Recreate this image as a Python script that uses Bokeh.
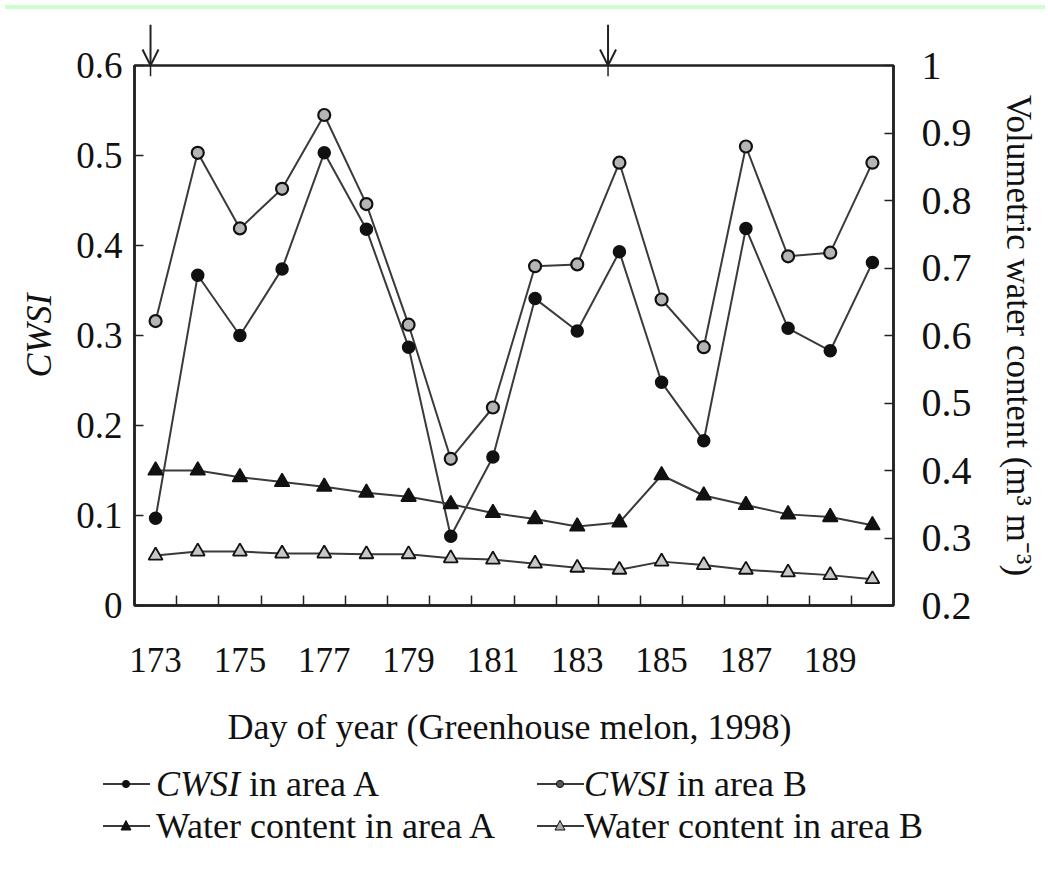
from bokeh.plotting import figure
from bokeh.models import Range1d, LinearAxis, FixedTicker, CustomJSTickFormatter, Arrow, OpenHead, Div
from bokeh.layouts import column
from bokeh.embed import file_html
from bokeh.resources import INLINE

# ---------------- data ----------------
days = list(range(173, 191))
cwsi_a = [0.097, 0.367, 0.300, 0.374, 0.503, 0.418, 0.287, 0.077, 0.165,
          0.341, 0.305, 0.393, 0.248, 0.183, 0.419, 0.308, 0.283, 0.381]
cwsi_b = [0.316, 0.503, 0.419, 0.463, 0.545, 0.446, 0.312, 0.163, 0.220,
          0.377, 0.379, 0.492, 0.340, 0.287, 0.510, 0.388, 0.392, 0.492]
wc_a = [0.400, 0.400, 0.390, 0.383, 0.376, 0.367, 0.361, 0.350, 0.337,
        0.328, 0.317, 0.323, 0.393, 0.363, 0.349, 0.335, 0.331, 0.319]
wc_b = [0.274, 0.280, 0.280, 0.277, 0.277, 0.276, 0.276, 0.270, 0.268,
        0.262, 0.256, 0.253, 0.265, 0.260, 0.253, 0.249, 0.245, 0.239]
irrigation_days = [172.88, 183.73]

x_label_days = [173, 175, 177, 179, 181, 183, 185, 187, 189]
x_tick_marks = [d + 0.5 for d in range(173, 190)]
cwsi_ticks = [0, 0.1, 0.2, 0.3, 0.4, 0.5, 0.6]
wc_ticks = [0.2, 0.3, 0.4, 0.5, 0.6, 0.7, 0.8, 0.9, 1.0]

legend_lead = ["CWSI", "CWSI", "", ""]
legend_rest = [" in area A", " in area B", "Water content in area A", "Water content in area B"]
legend_marker = ["circle", "circle", "triangle", "triangle"]
legend_fill = ["#111111", "#555555", "#111111", "#aaaaaa"]

FONT = "Liberation Serif"
LINE_C = "#3a3a3a"
W = 1040
ML, MR = 134, 147
TOPPAD = 22

fmt = CustomJSTickFormatter(code="return String(Math.round(tick*10)/10);")

# ---------------- main plot ----------------
p = figure(width=W, height=TOPPAD + 540 + 157,
           x_range=Range1d(172.5, 190.5), y_range=Range1d(0, 0.6),
           output_backend="svg", toolbar_location=None,
           x_axis_location=None, y_axis_location=None,
           min_border_left=ML, min_border_right=MR,
           min_border_top=TOPPAD, min_border_bottom=157)
p.margin = (-TOPPAD, 0, 0, 0)
p.extra_y_ranges = {"wc": Range1d(0.2, 1.0)}
p.xgrid.visible = False
p.ygrid.visible = False
p.outline_line_color = "#222222"
p.outline_line_width = 2.5
p.background_fill_color = "white"
p.border_fill_color = None


def style_axis(ax, tick_fs, title_fs="36px"):
    ax.major_label_text_font = FONT
    ax.major_label_text_font_size = tick_fs
    ax.major_label_text_color = "#111111"
    ax.axis_label_text_font = FONT
    ax.axis_label_text_font_size = title_fs
    ax.axis_label_text_color = "#111111"
    ax.axis_label_text_font_style = "normal"
    ax.axis_line_color = "#222222"
    ax.axis_line_width = 2.5
    ax.major_tick_line_color = "#222222"
    ax.major_tick_line_width = 1.5
    ax.minor_tick_line_color = "#222222"
    ax.minor_tick_line_width = 1.5
    ax.major_tick_out = 0
    ax.minor_tick_out = 0


xaxis = LinearAxis(ticker=FixedTicker(ticks=x_label_days, minor_ticks=x_tick_marks),
                   axis_label="Day of year  (Greenhouse melon, 1998)")
style_axis(xaxis, "35px")
xaxis.major_tick_in = 0
xaxis.minor_tick_in = 10
xaxis.major_label_standoff = 42
xaxis.axis_label_standoff = 32
p.add_layout(xaxis, "below")

laxis = LinearAxis(ticker=FixedTicker(ticks=cwsi_ticks), formatter=fmt, axis_label="CWSI")
style_axis(laxis, "37px")
laxis.axis_label_text_font_style = "italic"
laxis.major_tick_in = 9
laxis.major_label_standoff = 12
laxis.axis_label_standoff = 14
p.add_layout(laxis, "left")

raxis = LinearAxis(y_range_name="wc", ticker=FixedTicker(ticks=wc_ticks), formatter=fmt,
                   axis_label="Volumetric water content (m³ m⁻³)")
style_axis(raxis, "40px", "35px")
raxis.major_tick_in = 9
raxis.major_label_standoff = 28
raxis.axis_label_standoff = 24
p.add_layout(raxis, "right")

# series
p.line(days, cwsi_b, line_color=LINE_C, line_width=2)
p.line(days, cwsi_a, line_color=LINE_C, line_width=2)
p.line(days, wc_a, line_color=LINE_C, line_width=2, y_range_name="wc")
p.line(days, wc_b, line_color=LINE_C, line_width=2, y_range_name="wc")

p.scatter(days, cwsi_b, marker="circle", size=12, fill_color="#b5b5b5",
          line_color="#111111", line_width=2.2)
p.scatter(days, cwsi_a, marker="circle", size=12, fill_color="#111111",
          line_color="#111111", line_width=1.5)
p.scatter(days, wc_a, marker="triangle", size=15, fill_color="#111111",
          line_color="#111111", line_width=1.5, y_range_name="wc")
p.scatter(days, wc_b, marker="triangle", size=14, fill_color="#c8c8c8",
          line_color="#111111", line_width=1.8, y_range_name="wc")

# small inward tick under the irrigation arrows
p.segment(x0=irrigation_days, y0=[0.6] * len(irrigation_days),
          x1=irrigation_days, y1=[0.588] * len(irrigation_days),
          line_color="#222222", line_width=1.5)

# ---------------- arrows above the frame (shares the x scale) ----------------
ar = figure(width=W, height=51, x_range=p.x_range, y_range=Range1d(0, 1),
            output_backend="svg", toolbar_location=None,
            x_axis_location=None, y_axis_location=None,
            min_border_left=ML, min_border_right=MR,
            min_border_top=0, min_border_bottom=0)
ar.xgrid.visible = False
ar.ygrid.visible = False
ar.outline_line_color = None
ar.border_fill_color = "white"
ar.background_fill_color = "white"
for d in irrigation_days:
    ar.add_layout(Arrow(end=OpenHead(size=16, line_width=2, line_color="#222222"),
                        x_start=d, y_start=0.8, x_end=d, y_end=0.0,
                        line_width=2, line_color="#222222"))

band = Div(text="", width=W, height=4, styles={"background-color": "#ccffcc"})

# ---------------- legend (below) ----------------
rows = [17, 59]
cols_line = [98, 532]
cols_text = [151, 579]


def legend_svg(marker, fill):
    if marker == "circle":
        m = f'<circle cx="23" cy="10" r="3.6" fill="{fill}" stroke="#111" stroke-width="1"/>'
    else:
        m = f'<polygon points="23,4.5 28,14 18,14" fill="{fill}" stroke="#111" stroke-width="1"/>'
    return ('<svg width="47" height="20" style="display:block">'
            f'<line x1="0" y1="10" x2="47" y2="10" stroke="{LINE_C}" stroke-width="1.8"/>{m}</svg>')


parts = []
for i in range(4):
    ry = rows[i // 2]
    lx = cols_line[i % 2]
    tx = cols_text[i % 2]
    parts.append(f'<div style="position:absolute;left:{lx}px;top:{ry - 10}px;">'
                 f'{legend_svg(legend_marker[i], legend_fill[i])}</div>')
    lead = f'<i>{legend_lead[i]}</i>' if legend_lead[i] else ''
    parts.append(f'<div style="position:absolute;left:{tx}px;top:{ry - 20}px;height:40px;'
                 f'line-height:40px;white-space:nowrap;">{lead}{legend_rest[i]}</div>')

legend_html = ('<div style="position:relative;width:%dpx;height:95px;margin:0;padding:0;'
               'font-family:\'Liberation Serif\',serif;font-size:36px;color:#111111;">%s</div>'
               % (W, "".join(parts)))
legend = Div(text=legend_html, width=W, height=95)

layout = column(band, ar, p, legend, spacing=0)
open("out.html", "w").write(file_html(layout, INLINE))
